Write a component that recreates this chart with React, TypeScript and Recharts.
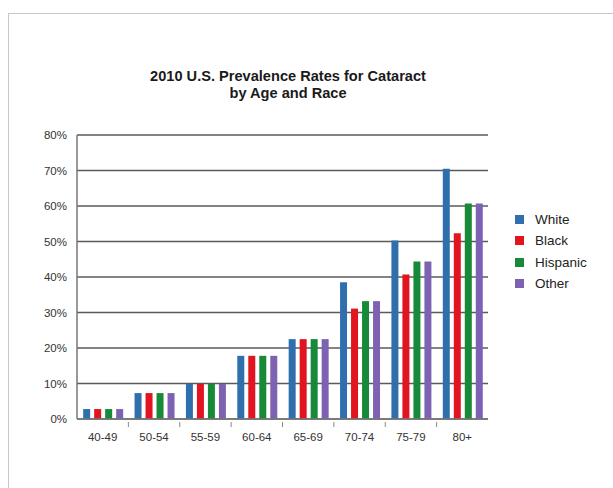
import React from "react";
import {
  BarChart,
  Bar,
  XAxis,
  YAxis,
  CartesianGrid,
  Legend,
} from "recharts";

// age groups along the x axis
const ageGroups = ["40-49", "50-54", "55-59", "60-64", "65-69", "70-74", "75-79", "80+"];

// prevalence in percent
const white = [2.8, 7.3, 9.9, 17.8, 22.5, 38.5, 50.3, 70.5];
const black = [2.8, 7.3, 9.9, 17.8, 22.5, 31.1, 40.7, 52.3];
const hispanic = [2.8, 7.3, 9.9, 17.8, 22.5, 33.2, 44.4, 60.7];
const other = [2.8, 7.3, 9.9, 17.8, 22.5, 33.2, 44.4, 60.7];

const yTicks = [0, 10, 20, 30, 40, 50, 60, 70, 80];

const series = [
  { key: "White", values: white, color: "#2f6fae" },
  { key: "Black", values: black, color: "#e1141f" },
  { key: "Hispanic", values: hispanic, color: "#178a3a" },
  { key: "Other", values: other, color: "#7d62b4" },
];

const data = ageGroups.map((age, i) => {
  const row: Record<string, string | number> = { age };
  series.forEach((s) => {
    row[s.key] = s.values[i];
  });
  return row;
});

const FONT = "'Liberation Sans', Arial, Helvetica, sans-serif";

// label plus the little separator mark at the right edge of each category
const AgeTick = (props: any) => {
  const { x, y, payload, index } = props;
  const half = payload && payload.offset ? payload.offset : 0;
  return (
    <g>
      <text
        x={x}
        y={y + 14}
        textAnchor="middle"
        fill="#333"
        fontSize={11.5}
        fontFamily={FONT}
      >
        {payload.value}
      </text>
      {index < ageGroups.length - 1 && (
        <line
          x1={x + half}
          x2={x + half}
          y1={y}
          y2={y - 5}
          stroke="#888"
          strokeWidth={1}
        />
      )}
    </g>
  );
};

const LegendList = () => (
  <div style={{ fontFamily: FONT, fontSize: 13.5, color: "#222" }}>
    {series.map((s) => (
      <div
        key={s.key}
        style={{ display: "flex", alignItems: "center", height: 21.3 }}
      >
        <span
          style={{
            display: "inline-block",
            width: 9,
            height: 9,
            background: s.color,
            marginRight: 11,
          }}
        />
        {s.key}
      </div>
    ))}
  </div>
);

export default function App() {
  return (
    <div
      style={{
        position: "absolute",
        left: 0,
        top: 0,
        width: 613,
        height: 488,
        background: "#fff",
        overflow: "hidden",
      }}
    >
      <div
        style={{
          position: "absolute",
          left: 8,
          top: 13,
          width: 640,
          height: 500,
          borderTop: "1px solid #c8c8c8",
          borderLeft: "1px solid #c8c8c8",
        }}
      />
      <div
        style={{
          position: "absolute",
          left: 88,
          top: 68,
          width: 400,
          textAlign: "center",
          fontFamily: FONT,
          fontWeight: "bold",
          fontSize: 14.6,
          lineHeight: "16.5px",
          color: "#1a1a1a",
        }}
      >
        2010 U.S. Prevalence Rates for Cataract
        <br />
        by Age and Race
      </div>
      <div style={{ position: "absolute", left: 0, top: 0 }}>
        <BarChart
          width={613}
          height={488}
          data={data}
          margin={{ top: 135, right: 125, left: 0, bottom: 39 }}
          barCategoryGap="12%"
          barGap={4}
        >
          <CartesianGrid
            vertical={false}
            stroke="#5a5a5a"
            strokeWidth={1.3}
          />
          <XAxis
            dataKey="age"
            height={30}
            interval={0}
            tickLine={false}
            axisLine={{ stroke: "#777", strokeWidth: 1.5 }}
            tick={<AgeTick />}
          />
          <YAxis
            width={77}
            domain={[0, 80]}
            ticks={yTicks}
            tickFormatter={(v) => `${v}%`}
            tickLine={false}
            tickSize={0}
            tickMargin={10}
            axisLine={{ stroke: "#777", strokeWidth: 1.5 }}
            tick={{ fill: "#333", fontSize: 11.5, fontFamily: FONT }}
          />
          <YAxis
            yAxisId="frame"
            orientation="right"
            width={0}
            tick={false}
            tickLine={false}
            axisLine={{ stroke: "#999", strokeWidth: 1.5 }}
          />
          <Legend
            layout="vertical"
            align="center"
            verticalAlign="middle"
            content={<LegendList />}
            wrapperStyle={{ position: "absolute", left: 515, top: 209, width: 100 }}
          />
          {series.map((s) => (
            <Bar
              key={s.key}
              dataKey={s.key}
              name={s.key}
              fill={s.color}
              isAnimationActive={false}
            />
          ))}
        </BarChart>
      </div>
    </div>
  );
}
